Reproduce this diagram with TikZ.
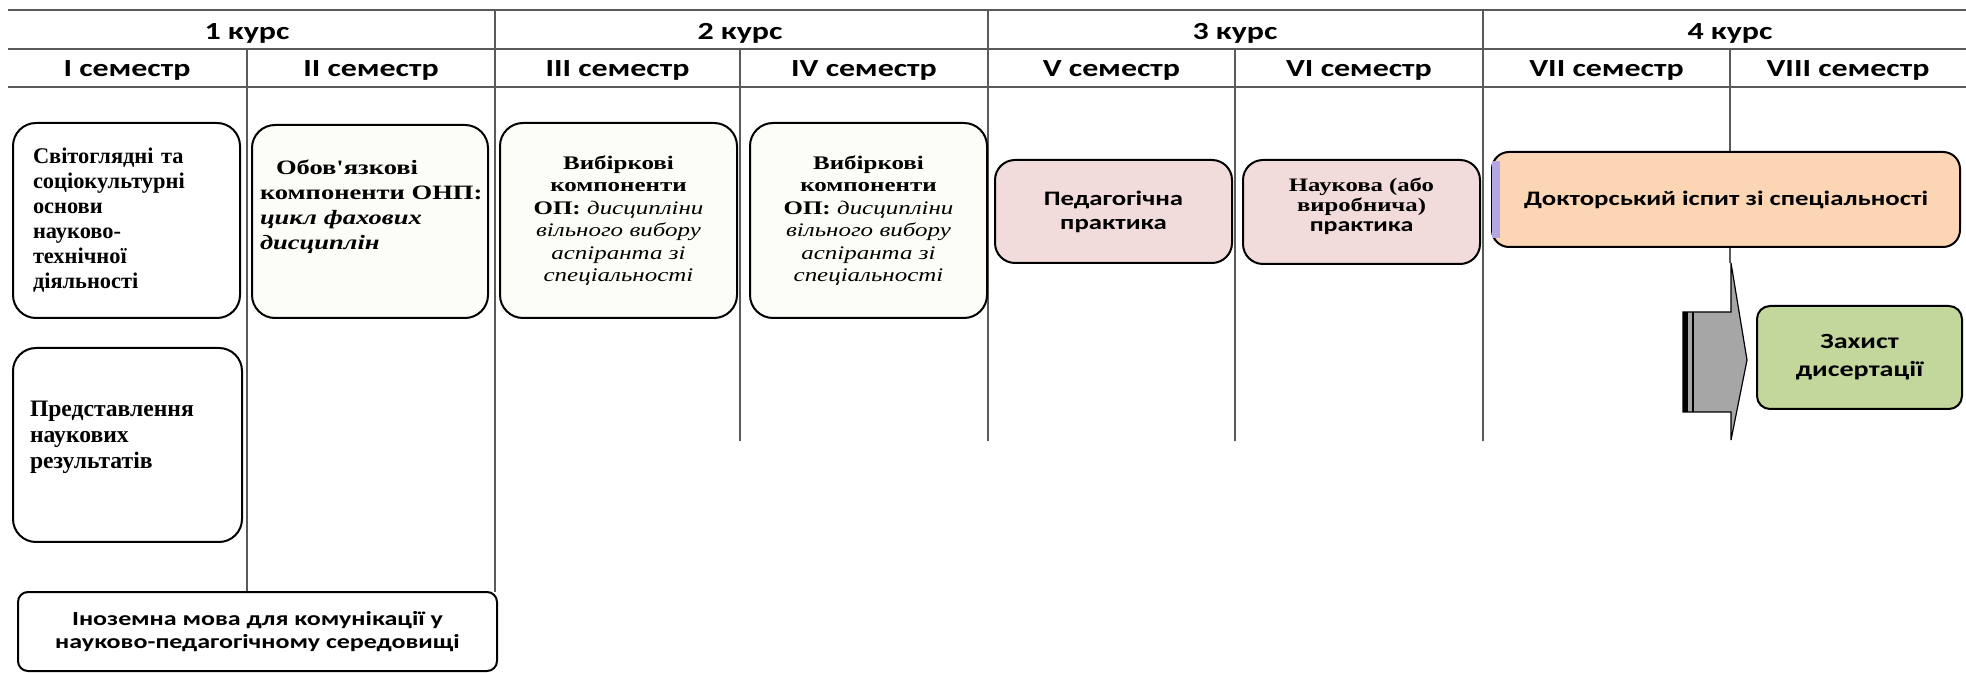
\documentclass[tikz,border=0pt]{standalone}
\usepackage{fontspec}
\setmainfont{Liberation Serif}
\newfontfamily\calibri[FakeStretch=1.3]{Carlito}
\newfontfamily\serifwide[FakeStretch=1.3]{Liberation Serif}
\usepackage{tikz}

\definecolor{gridgray}{HTML}{5A5A5A}
\definecolor{pinkfill}{HTML}{F2DCDB}
\definecolor{peach}{HTML}{FCD5B4}
\definecolor{defgreen}{HTML}{C3D69B}
\definecolor{arrowgray}{HTML}{A6A6A6}
\definecolor{lavender}{HTML}{B4A7E0}
\definecolor{palegreen}{HTML}{FBFDF6}

\begin{document}
\begin{tikzpicture}[x=0.5pt, y=-0.5pt,
    gridline/.style={draw=gridgray, line width=0.8pt},
    course/.style={anchor=base, font=\calibri\bfseries\fontsize{12.3}{15}\selectfont},
    roundbox/.style={draw=black, line width=1pt, rounded corners=11.5pt, inner sep=0pt},
    serifbox/.style={roundbox, font=\bfseries\fontsize{11.2}{12.5}\selectfont},
    sansbox/.style={roundbox, align=center, font=\calibri\bfseries\fontsize{10.3}{12}\selectfont}]
    \useasboundingbox (0,0) rectangle (1966,673);

    % table head
    \draw[gridline] (8,10) -- (1966,10);
    \draw[gridline] (8,49) -- (1966,49);
    \draw[gridline] (8,87) -- (1966,87);
    \foreach \x/\yb in {495/592, 988/441, 1483/441}
        \draw[gridline] (\x,10) -- (\x,\yb);
    \foreach \x/\yb in {247/592, 740/441, 1235/441, 1730/263}
        \draw[gridline] (\x,49) -- (\x,\yb);

    \foreach \n/\x/\t in {k1/247/1 курс, k2/740/2 курс, k3/1235/3 курс, k4/1730/4 курс}
        \node[course] (\n) at (\x,40) {\t};
    \foreach \n/\x/\t in {s1/127/I, s2/371/II, s3/617.5/III, s4/864/IV,
                          s5/1111.5/V, s6/1359/VI, s7/1606.5/VII, s8/1848/VIII}
        \node[course] (\n) at (\x,77) {\t{} семестр};

    % 1 kurs
    \node[serifbox, fill=white, align=left, text width=93.5pt, inner xsep=10pt,
          minimum height=97.5pt] (svit) at (126.5,220.5)
        {Світоглядні та\\соціокультурні\\основи\\науково-\\технічної\\діяльності};
    \node[serifbox, fill=white, align=left, text width=97.5pt, inner xsep=8.5pt,
          minimum height=97pt, font=\bfseries\fontsize{11.8}{13}\selectfont] (predst) at (127.5,445)
        {Представлення\\наукових\\результатів\\[-3pt]\mbox{}};
    \node[serifbox, fill=palegreen, align=left, text width=114pt, inner xsep=2pt,
          minimum height=96.5pt, font=\serifwide\bfseries\fontsize{10.2}{12.5}\selectfont] (obov) at (370,221.5)
        {\hspace*{10pt}Обов'язкові\\\hspace*{2pt}компоненти ОНП:\\\hspace*{2pt}\textit{цикл фахових}\\\hspace*{2pt}\textit{дисциплін}\\[4pt]\mbox{}};
    \node[sansbox, fill=white, rounded corners=5pt, minimum width=239.5pt,
          minimum height=39.5pt, font=\calibri\bfseries\fontsize{10}{11.7}\selectfont] (inozem) at (257.5,631.5)
        {Іноземна мова для комунікації у\\науково-педагогічному середовищі};

    % 2 kurs
    \foreach \n/\x in {vybir1/618.5, vybir2/868.5}
        \node[serifbox, fill=palegreen, align=center, text width=108.5pt, inner xsep=5pt,
              minimum height=97.5pt, font=\serifwide\fontsize{9.6}{11.2}\selectfont] (\n) at (\x,220.5)
            {\textbf{Вибіркові}\\\textbf{компоненти}\\\textbf{ОП:} \textit{дисципліни}\\
             \textit{вільного вибору}\\\textit{аспіранта зі}\\\textit{спеціальності}};

    % 3 kurs
    \node[sansbox, fill=pinkfill, rounded corners=10pt, minimum width=118.5pt,
          minimum height=51.5pt] (pedag) at (1113.5,211.5) {Педагогічна\\практика};
    \node[sansbox, fill=pinkfill, rounded corners=10pt, minimum width=118.5pt,
          minimum height=52pt, font=\calibri\bfseries\fontsize{10}{10}\selectfont] (naukova) at (1361.5,212)
        {{\serifwide\fontsize{9.5}{10}\selectfont Наукова (або}\\{\serifwide\fontsize{9.5}{10}\selectfont виробнича)}\\практика\\[-3pt]\mbox{}};

    % 4 kurs
    \node[sansbox, fill=peach, rounded corners=8.5pt, minimum width=234pt,
          minimum height=47.5pt] (doktor) at (1726,199.5) {Докторський іспит зі спеціальності};
    \fill[lavender] ([xshift=0.6pt,yshift=-5pt]doktor.north west) rectangle ([xshift=4.5pt,yshift=5pt]doktor.south west);
    \node[sansbox, fill=defgreen, rounded corners=6.5pt, minimum width=102.5pt,
          minimum height=51.5pt, font=\calibri\bfseries\fontsize{10.8}{14}\selectfont] (zakhyst) at (1859.5,357.5)
        {Захист\\дисертації};

    % block arrow to the defence
    \filldraw[fill=arrowgray, draw=black, line width=0.6pt]
        (1683,312) -- (1731,312) -- (1731,263) -- (1747,360) -- (1731,440)
        -- (1731,412) -- (1683,412) -- cycle;
    \draw[line width=2.5pt] (1685.5,312) -- (1685.5,412);
    \draw[line width=1pt] (1692.5,312) -- (1692.5,412);
\end{tikzpicture}
\end{document}
